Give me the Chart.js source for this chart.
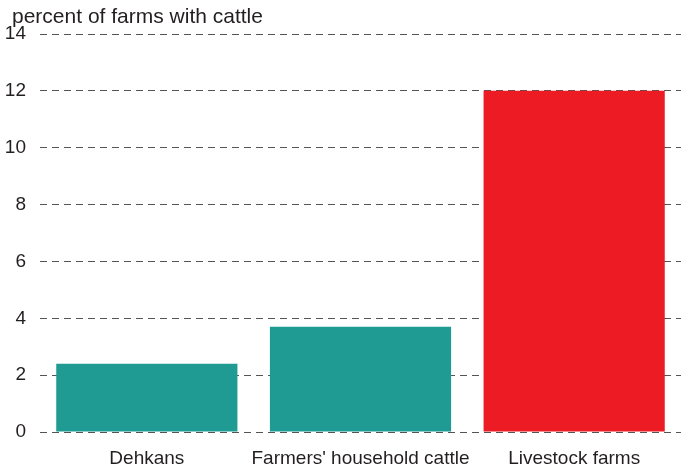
<!DOCTYPE html>
<html>
<head>
<meta charset="utf-8">
<script src="https://cdn.jsdelivr.net/npm/chart.js@4"></script>
<style>
  html, body { margin: 0; padding: 0; background: #fff; }
  #wrap { width: 686px; height: 472px; }
</style>
</head>
<body>
<div id="wrap"><canvas id="cattleChart"></canvas></div>
<script>
// Share of farms keeping cattle, by farm type
const categories = ['Dehkans', "Farmers' household cattle", 'Livestock farms'];
const shareValues = [2.4, 3.7, 12.0];
const barColors = ['#1f9b94', '#1f9b94', '#ed1c24'];
const yTicks = [0, 2, 4, 6, 8, 10, 12, 14];
const unitLabel = 'percent of farms with cattle';

const fontFamily = '"Liberation Sans", Arial, Helvetica, sans-serif';
const textColor = '#231f20';

// Unit label sits above the top grid line, left of the plot area
const unitLabelPlugin = {
    id: 'unitLabel',
    afterDraw(chart) {
        const ctx = chart.ctx;
        ctx.save();
        ctx.fillStyle = textColor;
        ctx.font = '21px ' + fontFamily;
        ctx.textAlign = 'left';
        ctx.textBaseline = 'middle';
        ctx.fillText(unitLabel, 12, 17);
        ctx.restore();
    }
};

new Chart(document.getElementById('cattleChart'), {
    type: 'bar',
    data: {
        labels: categories,
        datasets: [{
            label: unitLabel,
            data: shareValues,
            backgroundColor: barColors,
            borderWidth: 0,
            barPercentage: 0.848,
            categoryPercentage: 1.0
        }]
    },
    options: {
        responsive: true,
        maintainAspectRatio: false,
        animation: false,
        layout: { padding: { left: 0, right: 5, top: 34, bottom: 0 } },
        plugins: {
            legend: { display: false },
            tooltip: { enabled: false },
            title: { display: false }
        },
        scales: {
            x: {
                grid: { display: false, drawTicks: false },
                border: { display: false },
                ticks: {
                    color: textColor,
                    font: { family: fontFamily, size: 19 },
                    padding: 15,
                    maxRotation: 0,
                    autoSkip: false
                },
                afterFit: function(scale) { scale.height = 40; }
            },
            y: {
                min: 0,
                max: 14,
                afterBuildTicks: function(scale) {
                    scale.ticks = yTicks.map(v => ({ value: v }));
                },
                grid: {
                    color: '#555',
                    lineWidth: 1,
                    drawTicks: false
                },
                border: { display: false, dash: [7, 5] },
                ticks: {
                    color: textColor,
                    font: { family: fontFamily, size: 19 },
                    padding: 14
                },
                afterFit: function(scale) { scale.width = 40; }
            }
        }
    },
    plugins: [unitLabelPlugin]
});
</script>
</body>
</html>
